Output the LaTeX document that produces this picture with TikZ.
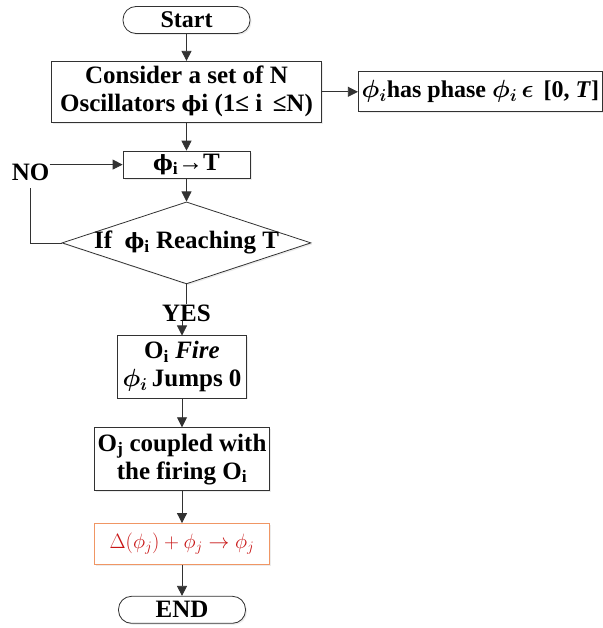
\documentclass[tikz,border=0pt]{standalone}
\usepackage{amsmath}
\usepackage{fontspec}
\setmainfont{Liberation Serif}
\newfontfamily\phifont{DejaVu Serif}
\usetikzlibrary{arrows.meta, positioning, shapes.geometric, shadows}

\definecolor{linegray}{RGB}{50,50,50}
\definecolor{firered}{RGB}{200,20,20}
\definecolor{edgeorange}{RGB}{240,150,100}

\newcommand{\uphi}{{\phifont\fontsize{21}{28}\selectfont ϕ}}

\begin{document}
\begin{tikzpicture}[
    font=\fontsize{25}{28}\selectfont\bfseries,
    box/.style={draw=linegray, line width=0.8pt, fill=white, align=center, inner sep=1pt,
        drop shadow={opacity=0.15, shadow xshift=1.5pt, shadow yshift=-1.5pt}},
    term/.style={box, rounded corners=13pt, minimum width=127pt, minimum height=27pt},
    test/.style={box, diamond, shape aspect=3, inner sep=0pt, minimum width=249pt, minimum height=82pt},
    lbl/.style={inner sep=0pt},
    arr/.style={-{Triangle[length=10pt, width=10pt]}, draw=linegray, line width=0.8pt},
    line/.style={draw=linegray, line width=0.8pt}
]
    \useasboundingbox (0,0) rectangle (602pt,-628pt);

    \node[term, font=\fontsize{24}{28}\selectfont\bfseries] (start) at (186.5pt,-20pt) {Start};
    \node[box, below=27pt of start, minimum width=270pt, minimum height=61pt] (osc)
        {Consider a set of N\\Oscillators \uphi i (1≤ i \,≤N)};
    \node[box, right=36pt of osc, minimum width=244pt, minimum height=40pt,
        font=\fontsize{24}{28}\selectfont\bfseries] (phase)
        {$\boldsymbol{\phi_i}$has phase $\boldsymbol{\phi_i}\,\boldsymbol{\epsilon}$\, [0, \textit{T}]};
    \node[box, below=28pt of osc, minimum width=127pt, minimum height=27pt] (tick)
        {\uphi\textsubscript{i}→T};
    \node[test, below=23pt of tick] (reach) {\makebox[0pt]{If \ \uphi\textsubscript{i} Reaching T}};
    \node[lbl, below=20pt of reach] (yes) {YES};
    \node[box, below=14pt of yes, xshift=-4.5pt, minimum width=129pt, minimum height=62pt] (fire)
        {O\textsubscript{i} \textit{Fire}\\$\boldsymbol{\phi_i}$\,Jumps 0};
    \node[box, below=29pt of fire, minimum width=175pt, minimum height=63pt] (couple)
        {O\textsubscript{j} coupled with\\the firing O\textsubscript{i}};
    \node[box, below=32pt of couple, minimum width=175pt, minimum height=41pt,
        draw=edgeorange, text=firered, font=\fontsize{22}{28}\selectfont] (update)
        {$\Delta(\phi_j) + \phi_j \rightarrow \phi_j$};
    \node[term, below=31pt of update] (end) {END};
    \node[lbl, left=73pt of tick, yshift=-8pt] (no) {NO};

    \draw[arr] (start) -- (osc);
    \draw[arr] (osc.east) -- (osc.east -| phase.west);
    \draw[arr] (osc) -- (tick);
    \draw[arr] (tick) -- (reach);
    \draw[line] (reach) -- (yes);
    \draw[arr] (yes.south -| fire.north) -- (fire.north);
    \draw[arr] (fire) -- (couple);
    \draw[arr] (couple) -- (update);
    \draw[arr] (update) -- (end);
    \draw[line, shorten >=7pt] (reach.west) -| (no.south);
    \draw[arr] (no.east |- tick.west) -- (tick.west);
\end{tikzpicture}
\end{document}
